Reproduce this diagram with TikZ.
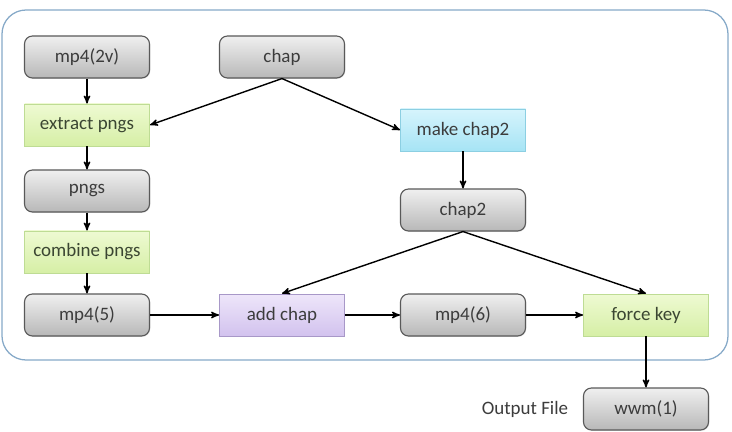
\documentclass[tikz,border=0pt]{standalone}
\usepackage{fontspec}
\setmainfont{Carlito}
\usepackage{tikz}
\usetikzlibrary{shapes}
\usetikzlibrary{arrows,shadows}
\usetikzlibrary{calc,positioning}

\definecolor{txt}{HTML}{3C3C3C}
\definecolor{frame}{HTML}{86A9C8}
\definecolor{greentxt}{HTML}{3B4632}
\definecolor{greentop}{HTML}{EEFAD2}
\definecolor{greenbot}{HTML}{D6EFA6}
\definecolor{greenline}{HTML}{BEDC94}
\definecolor{cyantop}{HTML}{D6F4FC}
\definecolor{cyanbot}{HTML}{A6E4F5}
\definecolor{cyanline}{HTML}{8CCFE2}
\definecolor{violettop}{HTML}{EEE6FA}
\definecolor{violetbot}{HTML}{D2C2EE}
\definecolor{violetline}{HTML}{A898C8}

\tikzset{
  box/.style = {rectangle, minimum width=3.125cm, minimum height=1.05cm, inner sep=0, align=center,
                text=txt, font=\fontsize{13.5}{16}\selectfont,
                drop shadow={opacity=0.2, shadow xshift=0.6pt, shadow yshift=-0.6pt}},
  file/.style = {box, rounded corners=0.2cm, draw=black!65, line width=0.8pt,
                 top color=black!6, bottom color=black!28},
  green/.style = {box, draw=greenline, line width=0.7pt, text=greentxt,
                  top color=greentop, bottom color=greenbot},
  cyan/.style = {box, draw=cyanline, line width=0.7pt,
                 top color=cyantop, bottom color=cyanbot},
  violet/.style = {box, draw=violetline, line width=0.7pt,
                   top color=violettop, bottom color=violetbot}
}

\begin{document}
\begin{tikzpicture}[flow/.style = {->, >=stealth', line width=1pt}, node distance=1.65cm]

\useasboundingbox (0,0) rectangle (18.3,-10.8);
\draw[frame, line width=0.9pt, rounded corners=0.6cm] (0.05,-0.25) rectangle (18.2,-9.0);

\node[file] at (2.175,-1.425) (mp42v) {mp4(2v)};
\node[green, below of=mp42v, node distance=1.7cm](extract){extract pngs};
\node[file, below of=extract](pngs){pngs};
\node[green, below of=pngs, node distance=1.525cm](combine){combine pngs};
\node[file, below of=combine, node distance=1.575cm](mp45){mp4(5)};
\node[violet, right of=mp45, node distance=4.875cm](addchap){add chap};
\node[file, right of=addchap, node distance=4.525cm](mp46){mp4(6)};
\node[green, right of=mp46, node distance=4.575cm](forcekey){force key};
\node[file, below of=forcekey, node distance=2.35cm](wwm){wwm(1)};
\node[left of=wwm, node distance=3.025cm, text=txt, font=\fontsize{13.5}{16}\selectfont](out){Output File};
\node[file, above of=addchap, node distance=6.45cm](chap){chap};
\node[cyan, above of=mp46, node distance=4.625cm](makechap2){make chap2};
\node[file, below of=makechap2, node distance=2cm](chap2){chap2};

\draw [flow] (mp42v) to (extract);
\draw [flow] (extract) to (pngs);
\draw [flow] (pngs) to (combine);
\draw [flow] (combine) to (mp45);
\draw [flow] (chap.south) to (extract.east);
\draw [flow] (chap.south) to (makechap2.west);
\draw [flow] (makechap2) to (chap2);
\draw [flow] (chap2.south) to (addchap.north);
\draw [flow] (chap2.south) to (forcekey.north);
\draw [flow] (mp45) to (addchap);
\draw [flow] (addchap) to (mp46);
\draw [flow] (mp46) to (forcekey);
\draw [flow] (forcekey) to (wwm);

\end{tikzpicture}
\end{document}
